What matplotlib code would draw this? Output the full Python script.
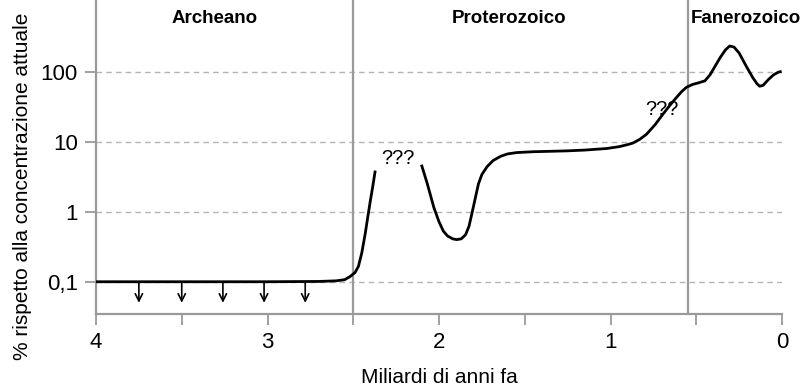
import numpy as np
import matplotlib
matplotlib.use('Agg')
import matplotlib.pyplot as plt

plt.rcParams['font.family'] = ['Liberation Sans', 'DejaVu Sans']

# età in miliardi di anni fa / ossigeno (% rispetto all'attuale)
eta_1 = [4.0, 3.5, 3.0, 2.7, 2.6, 2.55, 2.52, 2.49, 2.47, 2.45, 2.43, 2.415, 2.40, 2.385, 2.373]
o2_1 = [0.1, 0.1, 0.1, 0.101, 0.103, 0.107, 0.118, 0.135, 0.165, 0.26, 0.49, 0.85, 1.45, 2.4, 3.7]

eta_2 = [2.10, 2.07, 2.03, 2.0, 1.975, 1.95, 1.92, 1.897, 1.87, 1.845, 1.825, 1.81, 1.79,
         1.77, 1.75, 1.72, 1.684, 1.64, 1.6, 1.547, 1.45, 1.35, 1.256, 1.15, 1.023, 0.95,
         0.9, 0.868, 0.83, 0.79, 0.74, 0.693, 0.65, 0.615, 0.585, 0.557, 0.52, 0.49, 0.45,
         0.42, 0.39, 0.36, 0.33, 0.305, 0.28, 0.25, 0.207, 0.17, 0.145, 0.13, 0.11, 0.08,
         0.05, 0.02, 0.01]
o2_2 = [4.5, 2.6, 1.15, 0.72, 0.53, 0.45, 0.41, 0.40, 0.41, 0.47, 0.62, 0.9, 1.5,
        2.5, 3.4, 4.4, 5.4, 6.2, 6.7, 7.0, 7.2, 7.3, 7.4, 7.6, 8.0, 8.5,
        9.1, 9.6, 10.8, 12.8, 17.5, 25, 34, 43, 52, 60, 66, 69, 74,
        90, 120, 160, 205, 233, 225, 185, 118, 82, 67, 62, 64, 77,
        90, 99, 100]

frecce = [3.75, 3.5, 3.26, 3.02, 2.78]
confini = [2.5, 0.55]
eoni = ['Archeano', 'Proterozoico', 'Fanerozoico']
eoni_x = [3.31, 1.59, 0.21]
y_ticks = [0.1, 1, 10, 100]
y_labels = ['0,1', '1', '10', '100']

grigio = '#9a9a9a'

fig = plt.figure(figsize=(8, 3.87), dpi=100)
ax = fig.add_axes([0.12, 0.1886, 0.8575, 0.8114])

ax.set_yscale('log')
ax.set_xlim(4, 0)
ax.set_ylim(0.0346, 1058)

for y in y_ticks:
    ax.axhline(y, color='#b4b4b4', lw=1, ls=(0, (4, 3)), zorder=1)
for x in confini:
    ax.axvline(x, color=grigio, lw=1.6, zorder=2)

ax.plot(eta_1, o2_1, color='black', lw=2, zorder=3)
ax.plot(eta_2, o2_2, color='black', lw=2, zorder=3)

for x in frecce:
    ax.annotate('', xy=(x, 0.05), xytext=(x, 0.1),
                arrowprops=dict(arrowstyle='->', color='black', lw=1.2,
                                shrinkA=0, shrinkB=0, mutation_scale=13))

for nome, x in zip(eoni, eoni_x):
    ax.text(x, 585, nome, ha='center', va='center', fontsize=13.5, fontweight='bold')

ax.text(2.24, 5.85, '???', ha='center', va='center', fontsize=14.5)
ax.text(0.70, 29.3, '???', ha='center', va='center', fontsize=14.5)

ax.set_yticks(y_ticks)
ax.set_yticklabels(y_labels)
ax.yaxis.set_minor_locator(matplotlib.ticker.NullLocator())
ax.set_xticks(np.arange(0, 4.01, 0.5))
ax.set_xticklabels(['0', '', '1', '', '2', '', '3', '', '4'])

ax.tick_params(axis='both', colors=grigio, labelcolor='black', labelsize=16,
               length=8, width=1.3)
ax.tick_params(axis='y', pad=5)
ax.tick_params(axis='x', pad=5)

for s in ['top', 'right']:
    ax.spines[s].set_visible(False)
for s in ['left', 'bottom']:
    ax.spines[s].set_color(grigio)
    ax.spines[s].set_linewidth(1.6)

ax.set_xlabel('Miliardi di anni fa', fontsize=15, labelpad=11)
ax.set_ylabel('% rispetto alla concentrazione attuale', fontsize=15)
ax.yaxis.set_label_coords(-0.093, 0.408)

fig.savefig('out.png', dpi=100)
